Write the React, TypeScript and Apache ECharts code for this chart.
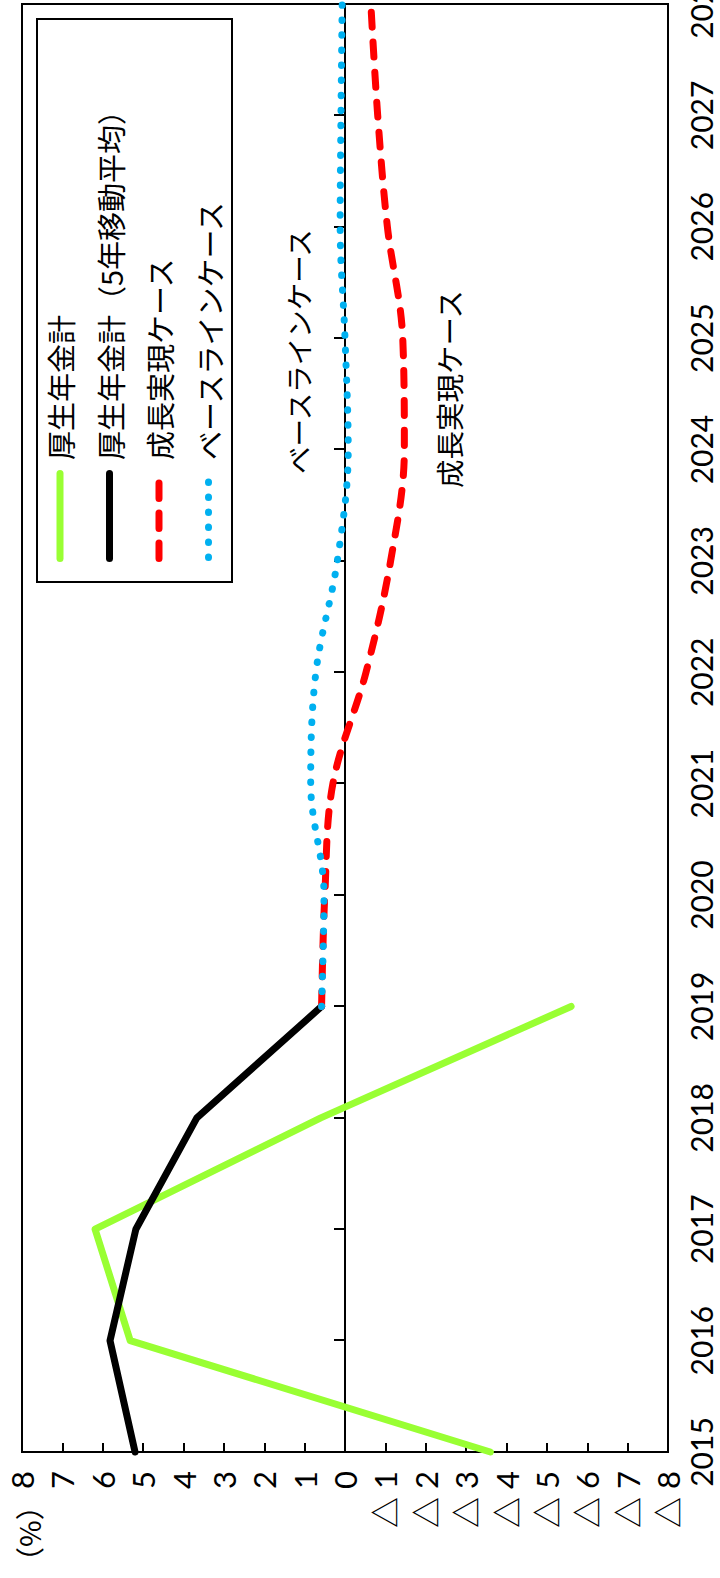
import { useEffect, useRef } from 'react';
import * as echarts from 'echarts';

// ---- data ----
const years = ['2015', '2016', '2017', '2018', '2019', '2020', '2021', '2022', '2023', '2024', '2025', '2026', '2027', '2028'];
const kouseiTotal = [-3.6, 5.32, 6.19, 0.6, -5.6, null, null, null, null, null, null, null, null, null];
const kouseiMA5 = [5.2, 5.82, 5.18, 3.67, 0.58, null, null, null, null, null, null, null, null, null];
const growthCase = [null, null, null, null, 0.58, 0.5, 0.3, -0.52, -1.13, -1.47, -1.43, -1.05, -0.81, -0.64];
const baselineCase = [null, null, null, null, 0.58, 0.52, 0.85, 0.72, 0.19, -0.08, 0.0, 0.12, 0.1, 0.07];
const valueMin = -8;
const valueMax = 8;
const valueStep = 1;
const seriesNames = ['厚生年金計', '厚生年金計（5年移動平均）', '成長実現ケース', 'ベースラインケース'];
const annotationBaseline = 'ベースラインケース';
const annotationGrowth = '成長実現ケース';
const unitLabel = '（%）';

const CJK = "'Noto Sans CJK JP', sans-serif";
const NUM = "Lato, 'Noto Sans CJK JP', sans-serif";

const GREEN = '#99ff33';
const BLACK = '#000000';
const RED = '#ff0000';
const BLUE = '#00b0f0';

export default function App() {
  const ref = useRef<HTMLDivElement>(null);

  useEffect(() => {
    if (!ref.current) return;
    const chart = echarts.init(ref.current, null, { renderer: 'svg' });

    const rowY = [60, 109.5, 159, 208.5];
    const legendItems: any[] = [
      {
        type: 'rect',
        z: 10,
        shape: { x: 996, y: 37, width: 563, height: 195 },
        style: { fill: '#fff', stroke: '#000', lineWidth: 2 },
      },
      {
        type: 'line', z: 11,
        shape: { x1: 1019.5, y1: rowY[0], x2: 1104.5, y2: rowY[0] },
        style: { stroke: GREEN, lineWidth: 7, lineCap: 'round' },
      },
      {
        type: 'line', z: 11,
        shape: { x1: 1019.5, y1: rowY[1], x2: 1104.5, y2: rowY[1] },
        style: { stroke: BLACK, lineWidth: 7, lineCap: 'round' },
      },
      {
        type: 'line', z: 11,
        shape: { x1: 1019.5, y1: rowY[2], x2: 1096, y2: rowY[2] },
        style: { stroke: RED, lineWidth: 7, lineCap: 'round', lineDash: [15.5, 14.5] },
      },
      {
        type: 'line', z: 11,
        shape: { x1: 1020.5, y1: rowY[3], x2: 1096.5, y2: rowY[3] },
        style: { stroke: BLUE, lineWidth: 7, lineCap: 'round', lineDash: [0.5, 14.5] },
      },
    ];
    seriesNames.forEach((name, i) => {
      legendItems.push({
        type: 'text', z: 11,
        x: 1118, y: rowY[i],
        style: { text: name, fontSize: 29, fontFamily: CJK, fill: '#000', align: 'left', verticalAlign: 'middle' },
      });
    });

    const option: any = {
      animation: false,
      backgroundColor: '#fff',
      grid: {
        left: 126, right: 4, top: 22, bottom: 52,
        containLabel: false,
        outerBoundsMode: 'none',
        show: true, borderColor: '#000', borderWidth: 2, backgroundColor: 'transparent',
      },
      xAxis: [
        {
          type: 'category',
          data: years,
          boundaryGap: false,
          position: 'bottom',
          axisLine: { show: true, onZero: true, lineStyle: { color: '#000', width: 2 } },
          axisTick: { show: true, inside: true, length: 11, interval: 0, lineStyle: { color: '#000', width: 2 } },
          axisLabel: { show: false },
          splitLine: { show: false },
        },
        {
          type: 'category',
          data: years,
          boundaryGap: false,
          position: 'bottom',
          axisLine: { show: false, onZero: false },
          axisTick: { show: false },
          axisLabel: {
            show: true, interval: 0, margin: 18, fontSize: 30, lineHeight: 30,
            fontFamily: NUM, color: '#000', hideOverlap: false,
          },
          splitLine: { show: false },
        },
      ],
      yAxis: {
        type: 'value',
        min: valueMin,
        max: valueMax,
        interval: valueStep,
        axisLine: { show: true, lineStyle: { color: '#000', width: 2 } },
        axisTick: { show: true, inside: true, length: 9, lineStyle: { color: '#000', width: 2 } },
        axisLabel: {
          margin: 19,
          fontSize: 31,
          fontFamily: NUM,
          color: '#000',
          formatter: (v: number) => (v < 0 ? '△ ' + String(-v) : String(v)),
        },
        splitLine: { show: false },
      },
      graphic: [
        {
          type: 'text', z: 11, x: 2, y: 28,
          style: { text: unitLabel, fontSize: 29, fontFamily: CJK, fill: '#000', align: 'left', verticalAlign: 'middle' },
        },
        {
          type: 'text', z: 11, x: 1226.5, y: 298,
          style: { text: annotationBaseline, fontSize: 27.5, fontFamily: CJK, fill: '#000', align: 'center', verticalAlign: 'middle' },
        },
        {
          type: 'text', z: 11, x: 1189, y: 448,
          style: { text: annotationGrowth, fontSize: 28.5, fontFamily: CJK, fill: '#000', align: 'center', verticalAlign: 'middle' },
        },
        ...legendItems,
      ],
      series: [
        {
          name: seriesNames[0], type: 'line', data: kouseiTotal, showSymbol: false, symbol: 'none',
          lineStyle: { color: GREEN, width: 7, cap: 'round', join: 'round' },
          connectNulls: false,
        },
        {
          name: seriesNames[1], type: 'line', data: kouseiMA5, showSymbol: false, symbol: 'none',
          lineStyle: { color: BLACK, width: 7, cap: 'round', join: 'round' },
        },
        {
          name: seriesNames[2], type: 'line', data: growthCase, showSymbol: false, symbol: 'none', smooth: 0.35,
          lineStyle: { color: RED, width: 7, type: [15, 15], cap: 'round', join: 'round' },
        },
        {
          name: seriesNames[3], type: 'line', data: baselineCase, showSymbol: false, symbol: 'none', smooth: 0.35,
          lineStyle: { color: BLUE, width: 7, type: [0.5, 14.5], cap: 'round', join: 'round' },
        },
      ],
    };

    chart.setOption(option);
    return () => chart.dispose();
  }, []);

  return (
    <div style={{ position: 'absolute', left: 0, top: 0, width: 720, height: 1578, overflow: 'hidden', background: '#fff' }}>
      <div
        ref={ref}
        style={{
          position: 'absolute', left: 0, top: 0, width: 1578, height: 720,
          transformOrigin: '0 0', transform: 'translateY(1578px) rotate(-90deg)',
        }}
      />
    </div>
  );
}
